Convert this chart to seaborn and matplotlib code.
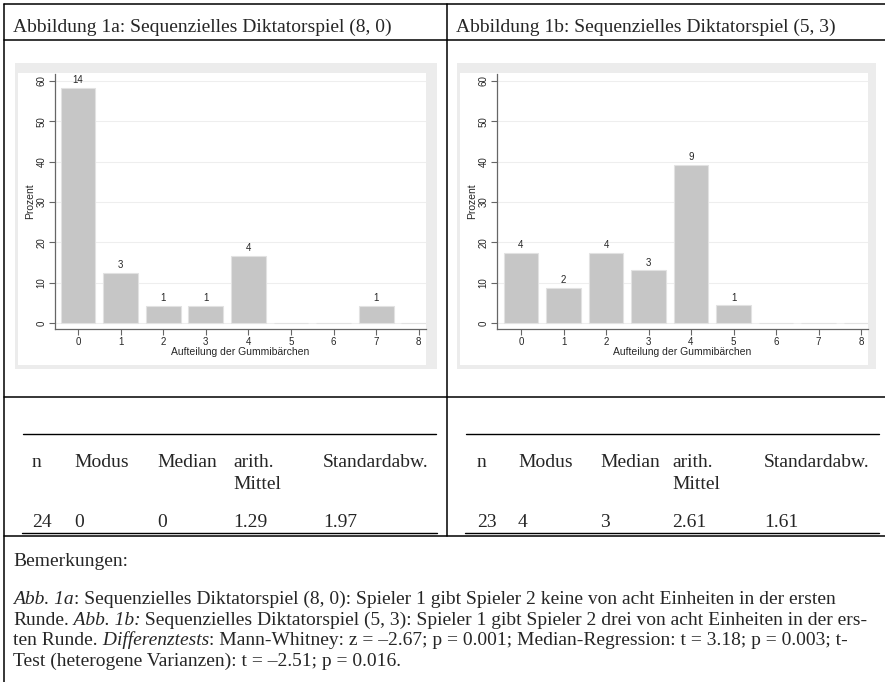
import matplotlib
matplotlib.use("Agg")
import matplotlib.pyplot as plt
import pandas as pd
import seaborn as sns
from matplotlib.lines import Line2D
from matplotlib.patches import Rectangle

sns.set_theme(style="white")
plt.rcParams["font.family"] = ["Liberation Serif", "DejaVu Serif"]

W, H = 885, 682

aufteilung = [0, 1, 2, 3, 4, 5, 6, 7, 8]
anzahl_a = [14, 3, 1, 1, 4, 0, 0, 1, 0]
anzahl_b = [4, 2, 4, 3, 9, 1, 0, 0, 0]
y_ticks = [0, 10, 20, 30, 40, 50, 60]

titel_a = "Abbildung 1a: Sequenzielles Diktatorspiel (8, 0)"
titel_b = "Abbildung 1b: Sequenzielles Diktatorspiel (5, 3)"
kopf = ["n", "Modus", "Median", "arith.", "Standardabw."]
werte_a = ["24", "0", "0", "1.29", "1.97"]
werte_b = ["23", "4", "3", "2.61", "1.61"]

bemerkungen = [
    [("Abb. 1a", "italic"),
     (": Sequenzielles Diktatorspiel (8, 0): Spieler 1 gibt Spieler 2 keine von acht Einheiten in der ersten", "normal")],
    [("Runde.", "normal"), (" Abb. 1b:", "italic"),
     (" Sequenzielles Diktatorspiel (5, 3): Spieler 1 gibt Spieler 2 drei von acht Einheiten in der ers-", "normal")],
    [("ten Runde.", "normal"), (" Differenztests", "italic"),
     (": Mann-Whitney: z = \u20132.67; p = 0.001; Median-Regression: t = 3.18; p = 0.003; t-", "normal")],
    [("Test (heterogene Varianzen): t = \u20132.51; p = 0.016.", "normal")],
]

fig = plt.figure(figsize=(W / 100, H / 100), dpi=100)
fig.patch.set_facecolor("white")


def fx(x):
    return x / W


def fy(y):
    return 1 - y / H


def linie(x0, y0, x1, y1, lw=1.1):
    fig.add_artist(Line2D([fx(x0), fx(x1)], [fy(y0), fy(y1)], color="black", lw=lw))


def rechteck(x0, y0, x1, y1, farbe):
    fig.add_artist(Rectangle((fx(x0), fy(y1)), fx(x1) - fx(x0), fy(y0) - fy(y1),
                             facecolor=farbe, edgecolor="none", zorder=0))


def histogramm(anzahl, bg, box, x_null, einheit):
    rechteck(*bg, "#ececec")
    l, t, r, b = box
    rechteck(bg[0] + 3, t - 1, r, bg[3] - 4, "white")
    ax = fig.add_axes([fx(l), fy(b), fx(r) - fx(l), fy(t) - fy(b)])
    df = pd.DataFrame({"wert": aufteilung, "anzahl": anzahl})
    sns.histplot(data=df, x="wert", weights="anzahl", discrete=True, stat="percent",
                 shrink=0.82, color="#c6c6c6", edgecolor="#e2e2e2", linewidth=0.8,
                 alpha=1, ax=ax)
    ax.set_xlim((l - x_null) / einheit, (r - x_null) / einheit)
    ax.set_ylim(-1.5, 61.7)
    ax.set_xticks(aufteilung)
    ax.set_yticks(y_ticks)
    ax.set_axisbelow(True)
    ax.yaxis.grid(True, color="#eeeeee", lw=0.8)
    ax.set_facecolor("white")
    for s in ["top", "right"]:
        ax.spines[s].set_visible(False)
    for s in ["left", "bottom"]:
        ax.spines[s].set_color("#666666")
        ax.spines[s].set_linewidth(0.9)
    ax.tick_params(axis="both", direction="out", length=4, width=0.8, color="#666666",
                   labelsize=7, pad=2, left=True, bottom=True)
    ax.tick_params(axis="y", labelrotation=90)
    for lab in ax.get_xticklabels() + ax.get_yticklabels():
        lab.set_family("Liberation Sans")
    for lab in ax.get_yticklabels():
        lab.set_va("center")
    ax.set_xlabel("Aufteilung der Gummib\u00e4rchen", fontsize=7.5, family="Liberation Sans",
                  labelpad=0)
    ax.set_ylabel("Prozent", fontsize=7.5, family="Liberation Sans", labelpad=1)
    ax.bar_label(ax.containers[0], labels=[str(c) if c else "" for c in anzahl],
                 padding=2, fontsize=7, family="Liberation Sans")
    return ax


histogramm(anzahl_a, (15, 63, 437, 369), (55, 74, 426, 329), 78, 42.6)
histogramm(anzahl_b, (457, 63, 876, 369), (497, 74, 868, 329), 521, 42.5)

# Rahmen
linie(4, 4, W, 4)
linie(4, 40, W, 40)
linie(4, 397, W, 397)
linie(4, 536, W, 536)
linie(4, 4, 4, H)
linie(447, 4, 447, 536)

# Tabellenlinien
linie(23, 434, 436, 434, lw=1.0)
linie(466, 434, 879, 434, lw=1.0)
linie(22, 533, 437, 533, lw=1.0)
linie(465, 533, 879, 533, lw=1.0)

fs = 14
fig.text(fx(13), fy(32), titel_a, fontsize=fs, va="baseline")
fig.text(fx(456), fy(32), titel_b, fontsize=fs, va="baseline")

spalten_a = [32, 74, 157, 233, 323]
spalten_b = [477, 518, 600, 672, 764]
for spalten, werte in [(spalten_a, werte_a), (spalten_b, werte_b)]:
    for x, k, v in zip(spalten, kopf, werte):
        fig.text(fx(x), fy(467), k, fontsize=fs, va="baseline")
        fig.text(fx(x), fy(527), v, fontsize=fs, va="baseline")
    fig.text(fx(spalten[3]), fy(489), "Mittel", fontsize=fs, va="baseline")

fig.text(fx(13), fy(566), "Bemerkungen:", fontsize=fs, va="baseline")

renderer = fig.canvas.get_renderer()
y = 604
for teile in bemerkungen:
    x = 13
    for text, stil in teile:
        t = fig.text(fx(x), fy(y), text, fontsize=fs, style=stil, va="baseline")
        x += t.get_window_extent(renderer).width
    y += 20.7

fig.savefig("out.png", dpi=100)
